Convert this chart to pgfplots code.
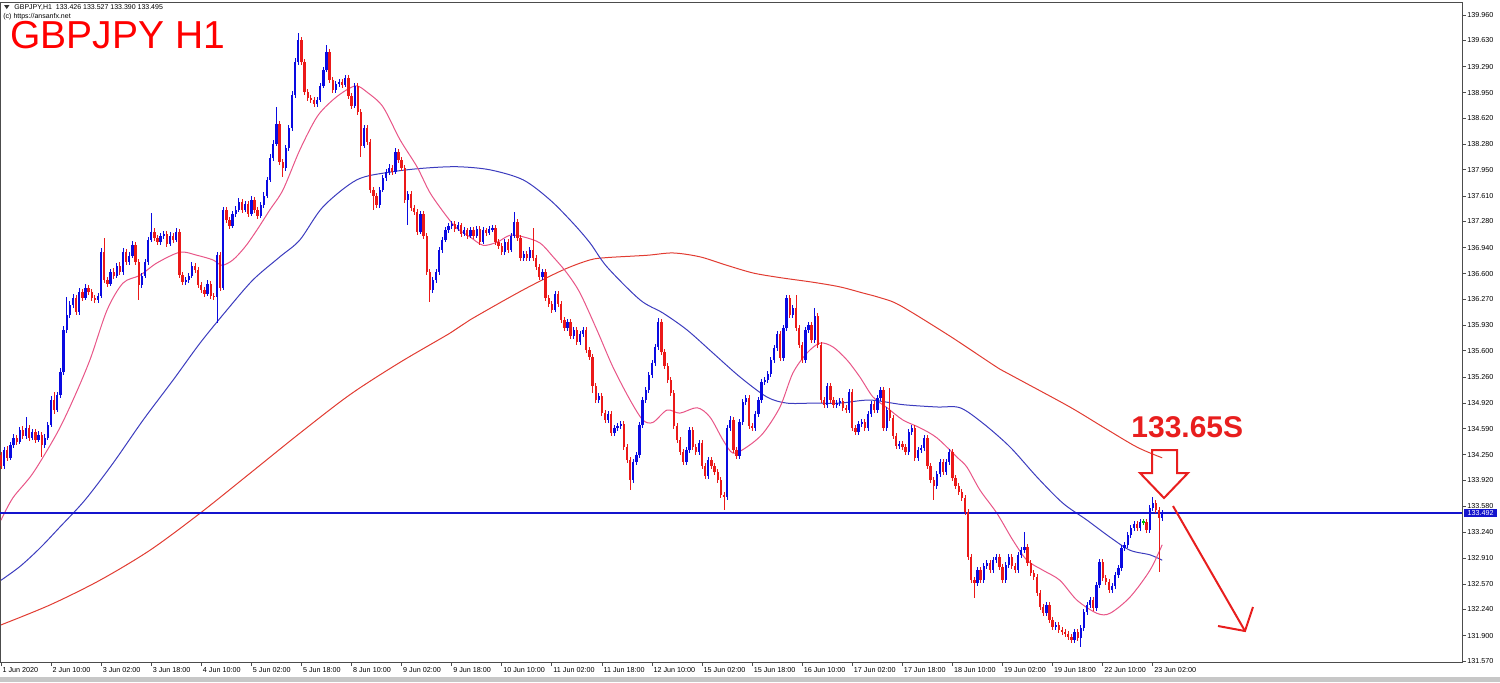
\documentclass[border=0pt]{standalone}
\usepackage{fontspec}
\setmainfont{Liberation Sans}
\usepackage{pgfplots}
\usepackage{pgfplotstable}
\pgfplotsset{compat=1.18}

\definecolor{bull}{RGB}{10,10,225}
\definecolor{bear}{RGB}{235,25,25}
\definecolor{doji}{RGB}{0,190,0}
\definecolor{maFast}{RGB}{232,85,135}
\definecolor{maMid}{RGB}{60,60,190}
\definecolor{maSlow}{RGB}{225,60,50}
\definecolor{lvl}{RGB}{20,20,205}
\definecolor{note}{RGB}{232,30,30}

% GBPJPY H1 bars: index, open, high, low, close
\pgfplotstableread{
i o h l c
0 134.25 134.29 134.06 134.10
1 134.10 134.35 134.06 134.31
2 134.31 134.36 134.17 134.21
3 134.21 134.42 134.18 134.38
4 134.38 134.52 134.34 134.47
5 134.47 134.50 134.38 134.42
6 134.42 134.61 134.39 134.57
7 134.57 134.62 134.45 134.49
8 134.49 134.74 134.45 134.60
9 134.60 134.64 134.43 134.47
10 134.47 134.59 134.44 134.55
11 134.55 134.58 134.40 134.44
12 134.44 134.56 134.41 134.51
13 134.51 134.55 134.22 134.38
14 134.38 134.52 134.34 134.47
15 134.47 134.68 134.44 134.64
16 134.64 135.01 134.61 134.96
17 134.96 135.06 134.78 134.83
18 134.83 135.07 134.80 135.03
19 135.03 135.38 134.99 135.32
20 135.32 135.92 135.29 135.87
21 135.87 136.30 135.83 136.06
22 136.06 136.24 136.02 136.19
23 136.19 136.34 136.15 136.29
24 136.29 136.33 136.06 136.10
25 136.10 136.41 136.07 136.36
26 136.36 136.40 136.25 136.29
27 136.29 136.47 136.26 136.42
28 136.42 136.45 136.32 136.36
29 136.36 136.40 136.25 136.29
30 136.29 136.33 136.22 136.26
31 136.26 136.35 136.22 136.31
32 136.31 136.93 136.28 136.88
33 136.88 137.06 136.48 136.52
34 136.52 136.56 136.43 136.47
35 136.47 136.66 136.44 136.62
36 136.62 136.67 136.53 136.57
37 136.57 136.74 136.54 136.70
38 136.70 136.75 136.58 136.62
39 136.62 136.93 136.59 136.88
40 136.88 136.92 136.71 136.75
41 136.75 136.88 136.72 136.83
42 136.83 137.02 136.80 136.97
43 136.97 137.01 136.71 136.75
44 136.75 136.79 136.26 136.45
45 136.45 136.61 136.42 136.57
46 136.57 136.79 136.54 136.75
47 136.75 137.08 136.72 137.04
48 137.04 137.39 137.01 137.14
49 137.14 137.19 137.02 137.06
50 137.06 137.10 136.97 137.01
51 137.01 137.13 136.98 137.09
52 137.09 137.16 137.05 137.12
53 137.12 137.16 136.95 136.99
54 136.99 137.14 136.96 137.09
55 137.09 137.13 137.00 137.04
56 137.04 137.20 137.01 137.14
57 137.14 137.18 136.54 136.58
58 136.58 136.62 136.45 136.49
59 136.49 136.56 136.45 136.52
60 136.52 136.61 136.48 136.57
61 136.57 136.75 136.54 136.70
62 136.70 136.74 136.61 136.65
63 136.65 136.69 136.41 136.45
64 136.45 136.49 136.35 136.39
65 136.39 136.43 136.30 136.34
66 136.34 136.52 136.31 136.47
67 136.47 136.51 136.27 136.31
68 136.31 136.35 136.26 136.30
69 136.30 136.88 135.96 136.84
70 136.84 136.88 136.38 136.42
71 136.42 137.47 136.39 137.43
72 137.43 137.47 137.26 137.30
73 137.30 137.34 137.18 137.22
74 137.22 137.42 137.19 137.38
75 137.38 137.48 137.34 137.43
76 137.43 137.58 137.40 137.53
77 137.53 137.57 137.39 137.43
78 137.43 137.55 137.40 137.51
79 137.51 137.55 137.34 137.38
80 137.38 137.61 137.35 137.56
81 137.56 137.60 137.39 137.43
82 137.43 137.47 137.31 137.35
83 137.35 137.53 137.32 137.49
84 137.49 137.66 137.45 137.61
85 137.61 137.86 137.58 137.82
86 137.82 138.15 137.79 138.10
87 138.10 138.34 138.06 138.29
88 138.29 138.77 138.26 138.55
89 138.55 138.59 138.01 138.05
90 138.05 138.09 137.86 137.97
91 137.97 138.27 137.94 138.23
92 138.23 138.53 138.20 138.49
93 138.49 138.97 138.45 138.92
94 138.92 139.40 138.88 139.35
95 139.35 139.73 139.31 139.64
96 139.64 139.68 139.31 139.35
97 139.35 139.39 138.92 138.96
98 138.96 139.00 138.84 138.88
99 138.88 138.92 138.82 138.86
100 138.86 138.90 138.76 138.80
101 138.80 138.90 138.77 138.86
102 138.86 139.08 138.83 139.04
103 139.04 139.29 139.01 139.25
104 139.25 139.57 139.22 139.48
105 139.48 139.52 139.08 139.12
106 139.12 139.16 138.95 138.99
107 138.99 139.10 138.95 139.06
108 139.06 139.13 139.02 139.09
109 139.09 139.13 139.01 139.05
110 139.05 139.18 139.02 139.14
111 139.14 139.18 138.87 138.91
112 138.91 138.95 138.74 138.78
113 138.78 139.08 138.75 139.04
114 139.04 139.08 138.66 138.70
115 138.70 138.74 138.12 138.26
116 138.26 138.53 138.23 138.49
117 138.49 138.53 138.27 138.31
118 138.31 138.35 137.65 137.69
119 137.69 137.73 137.43 137.61
120 137.61 137.65 137.45 137.49
121 137.49 137.73 137.46 137.69
122 137.69 137.88 137.66 137.84
123 137.84 137.96 137.80 137.92
124 137.92 138.02 137.88 137.97
125 137.97 138.01 137.88 137.92
126 137.92 138.23 137.89 138.18
127 138.18 138.22 138.04 138.08
128 138.08 138.12 137.93 137.97
129 137.97 138.01 137.52 137.56
130 137.56 137.68 137.23 137.64
131 137.64 137.68 137.41 137.45
132 137.45 137.49 137.36 137.40
133 137.40 137.44 137.10 137.14
134 137.14 137.42 137.11 137.38
135 137.38 137.42 137.05 137.09
136 137.09 137.13 136.58 136.62
137 136.62 136.66 136.23 136.39
138 136.39 136.56 136.35 136.52
139 136.52 136.66 136.48 136.62
140 136.62 136.95 136.58 136.91
141 136.91 137.08 136.87 137.04
142 137.04 137.21 137.01 137.17
143 137.17 137.26 137.13 137.22
144 137.22 137.29 137.18 137.25
145 137.25 137.28 137.14 137.18
146 137.18 137.27 137.15 137.23
147 137.23 137.26 137.08 137.12
148 137.12 137.21 137.09 137.17
149 137.17 137.20 137.05 137.09
150 137.09 137.21 137.06 137.17
151 137.17 137.21 137.05 137.09
152 137.09 137.22 137.06 137.18
153 137.18 137.22 136.97 137.01
154 137.01 137.21 136.98 137.17
155 137.17 137.20 137.09 137.13
156 137.13 137.22 137.10 137.18
157 137.18 137.23 137.14 137.19
158 137.19 137.23 136.97 137.01
159 137.01 137.05 136.92 136.96
160 136.96 137.00 136.84 136.88
161 136.88 137.05 136.85 137.01
162 137.01 137.05 136.87 136.91
163 136.91 137.13 136.88 137.09
164 137.09 137.40 137.06 137.27
165 137.27 137.31 137.02 137.06
166 137.06 137.10 136.76 136.80
167 136.80 136.90 136.76 136.86
168 136.86 136.90 136.76 136.80
169 136.80 136.95 136.77 136.91
170 136.91 137.19 136.76 136.80
171 136.80 136.84 136.65 136.69
172 136.69 136.73 136.52 136.56
173 136.56 136.66 136.52 136.62
174 136.62 136.66 136.25 136.29
175 136.29 136.33 136.17 136.21
176 136.21 136.25 136.09 136.13
177 136.13 136.38 136.10 136.34
178 136.34 136.38 136.17 136.21
179 136.21 136.25 135.96 136.00
180 136.00 136.04 135.86 135.90
181 135.90 136.01 135.86 135.97
182 135.97 136.01 135.75 135.79
183 135.79 135.91 135.75 135.87
184 135.87 135.91 135.67 135.71
185 135.71 135.86 135.67 135.82
186 135.82 135.91 135.78 135.87
187 135.87 135.91 135.57 135.61
188 135.61 135.65 135.48 135.52
189 135.52 135.56 135.05 135.14
190 135.14 135.18 134.92 134.96
191 134.96 135.05 134.92 135.01
192 135.01 135.05 134.75 134.79
193 134.79 134.83 134.66 134.70
194 134.70 134.82 134.66 134.78
195 134.78 134.82 134.49 134.53
196 134.53 134.64 134.49 134.60
197 134.60 134.66 134.56 134.62
198 134.62 134.69 134.58 134.65
199 134.65 134.69 134.31 134.35
200 134.35 134.39 134.14 134.18
201 134.18 134.22 133.79 133.92
202 133.92 134.20 133.88 134.16
203 134.16 134.29 134.12 134.25
204 134.25 134.68 134.21 134.64
205 134.64 135.00 134.60 134.96
206 134.96 135.13 134.92 135.09
207 135.09 135.33 135.05 135.29
208 135.29 135.48 135.25 135.44
209 135.44 135.69 135.40 135.65
210 135.65 136.03 135.61 135.97
211 135.97 136.01 135.54 135.58
212 135.58 135.62 135.36 135.40
213 135.40 135.44 135.18 135.22
214 135.22 135.26 135.01 135.05
215 135.05 135.09 134.58 134.62
216 134.62 134.66 134.40 134.44
217 134.44 134.48 134.25 134.29
218 134.29 134.33 134.12 134.16
219 134.16 134.35 134.12 134.31
220 134.31 134.61 134.27 134.57
221 134.57 134.61 134.31 134.35
222 134.35 134.39 134.25 134.29
223 134.29 134.44 134.25 134.40
224 134.40 134.44 134.06 134.10
225 134.10 134.14 133.93 133.97
226 133.97 134.22 133.93 134.18
227 134.18 134.22 134.06 134.10
228 134.10 134.14 133.99 134.03
229 134.03 134.07 133.88 133.92
230 133.92 133.96 133.69 133.73
231 133.73 133.77 133.53 133.70
232 133.70 134.64 133.66 134.60
233 134.60 134.75 134.56 134.70
234 134.70 134.74 134.27 134.31
235 134.31 134.35 134.19 134.23
236 134.23 134.71 134.19 134.67
237 134.67 134.97 134.63 134.93
238 134.93 135.03 134.89 134.99
239 134.99 135.03 134.58 134.62
240 134.62 134.66 134.56 134.60
241 134.60 134.82 134.56 134.78
242 134.78 135.00 134.74 134.96
243 134.96 135.23 134.92 135.19
244 135.19 135.26 135.15 135.22
245 135.22 135.34 135.18 135.30
246 135.30 135.52 135.26 135.48
247 135.48 135.68 135.44 135.64
248 135.64 135.86 135.60 135.82
249 135.82 135.86 135.47 135.51
250 135.51 135.94 135.47 135.90
251 135.90 136.32 135.86 136.29
252 136.29 136.33 136.02 136.06
253 136.06 136.20 136.02 136.16
254 136.16 136.32 135.86 135.90
255 135.90 135.94 135.63 135.67
256 135.67 135.71 135.44 135.48
257 135.48 135.91 135.44 135.87
258 135.87 135.97 135.83 135.93
259 135.93 135.97 135.70 135.74
260 135.74 136.16 135.70 136.05
261 136.05 136.09 135.63 135.67
262 135.67 135.71 134.92 134.96
263 134.96 135.00 134.86 134.90
264 134.90 135.18 134.86 135.14
265 135.14 135.18 134.92 134.96
266 134.96 135.00 134.86 134.90
267 134.90 134.96 134.86 134.92
268 134.92 134.99 134.88 134.95
269 134.95 134.99 134.82 134.86
270 134.86 134.90 134.79 134.83
271 134.83 135.10 134.79 135.06
272 135.06 135.10 134.56 134.60
273 134.60 134.64 134.51 134.55
274 134.55 134.69 134.51 134.65
275 134.65 134.71 134.61 134.67
276 134.67 134.71 134.56 134.60
277 134.60 134.82 134.56 134.78
278 134.78 134.95 134.74 134.91
279 134.91 134.95 134.79 134.83
280 134.83 135.03 134.79 134.99
281 134.99 135.13 134.95 135.09
282 135.09 135.13 134.56 134.60
283 134.60 134.87 134.56 134.83
284 134.83 135.12 134.69 134.73
285 134.73 134.77 134.45 134.49
286 134.49 134.53 134.32 134.36
287 134.36 134.43 134.32 134.39
288 134.39 134.43 134.31 134.35
289 134.35 134.39 134.25 134.29
290 134.29 134.59 134.25 134.55
291 134.55 134.64 134.51 134.60
292 134.60 134.64 134.17 134.21
293 134.21 134.35 134.17 134.31
294 134.31 134.38 134.27 134.34
295 134.34 134.51 134.30 134.47
296 134.47 134.51 134.06 134.10
297 134.10 134.14 133.88 133.92
298 133.92 133.96 133.66 133.84
299 133.84 134.04 133.80 134.00
300 134.00 134.20 133.96 134.16
301 134.16 134.20 133.99 134.03
302 134.03 134.20 133.99 134.16
303 134.16 134.33 134.12 134.29
304 134.29 134.33 133.91 133.95
305 133.95 133.99 133.80 133.84
306 133.84 133.88 133.73 133.77
307 133.77 133.81 133.65 133.69
308 133.69 133.73 133.47 133.51
309 133.51 133.55 132.88 132.92
310 132.92 132.96 132.58 132.62
311 132.62 132.66 132.39 132.58
312 132.58 132.79 132.54 132.75
313 132.75 132.79 132.58 132.62
314 132.62 132.84 132.58 132.80
315 132.80 132.88 132.76 132.84
316 132.84 132.88 132.71 132.75
317 132.75 132.92 132.71 132.88
318 132.88 132.96 132.84 132.92
319 132.92 132.96 132.75 132.79
320 132.79 132.83 132.58 132.62
321 132.62 132.86 132.58 132.82
322 132.82 132.96 132.78 132.92
323 132.92 132.96 132.76 132.80
324 132.80 132.84 132.71 132.75
325 132.75 132.99 132.71 132.95
326 132.95 133.05 132.91 133.01
327 133.01 133.25 132.97 133.05
328 133.05 133.09 132.80 132.84
329 132.84 132.88 132.67 132.71
330 132.71 132.75 132.62 132.66
331 132.66 132.70 132.41 132.45
332 132.45 132.49 132.23 132.27
333 132.27 132.31 132.15 132.19
334 132.19 132.34 132.15 132.30
335 132.30 132.34 132.06 132.10
336 132.10 132.14 131.97 132.01
337 132.01 132.08 131.97 132.04
338 132.04 132.08 131.93 131.97
339 131.97 132.01 131.91 131.95
340 131.95 131.99 131.88 131.92
341 131.92 131.96 131.84 131.88
342 131.88 131.92 131.80 131.84
343 131.84 131.99 131.80 131.95
344 131.95 131.99 131.83 131.87
345 131.87 132.04 131.75 132.00
346 132.00 132.25 131.96 132.21
347 132.21 132.34 132.17 132.30
348 132.30 132.40 132.26 132.36
349 132.36 132.40 132.22 132.26
350 132.26 132.60 132.22 132.56
351 132.56 132.90 132.52 132.86
352 132.86 132.90 132.61 132.65
353 132.65 132.69 132.56 132.60
354 132.60 132.64 132.45 132.49
355 132.49 132.59 132.45 132.55
356 132.55 132.73 132.51 132.69
357 132.69 132.82 132.65 132.78
358 132.78 133.08 132.74 133.04
359 133.04 133.12 133.00 133.08
360 133.08 133.25 133.04 133.21
361 133.21 133.34 133.17 133.30
362 133.30 133.39 133.26 133.35
363 133.35 133.39 133.26 133.30
364 133.30 133.42 133.26 133.38
365 133.38 133.42 133.34 133.38
366 133.38 133.42 133.23 133.27
367 133.27 133.60 133.23 133.56
368 133.56 133.70 133.52 133.62
369 133.62 133.66 133.49 133.53
370 133.53 133.57 132.73 133.43
371 133.43 133.53 133.39 133.50
}\candles

\newcommand{\tickfont}{\fontsize{3.6}{4.2}\selectfont}
% invisible carrier plot: only its error bars are drawn (#1 colour, #2 width)
\pgfplotsset{candle/.style 2 args={draw=none, mark=none, forget plot,
    error bars/.cd, y dir=both, y explicit, error mark=none,
    error bar style={draw=#1, line width=#2}}}
% close minus open, compared against a small threshold
\newcommand{\move}{(\thisrow{c}-\thisrow{o})}

\begin{document}
\begin{tikzpicture}
\path[use as bounding box] (0pt,0pt) rectangle (750pt,-341pt);
\begin{axis}[
    at={(0pt,-1pt)}, anchor=north west,
    scale only axis,
    width=731pt, height=330pt,
    xmin=-0.32, xmax=466.8,
    ymin=131.558, ymax=140.129,
    clip=false,
    unbounded coords=discard,
    axis line style={black!70, line width=0.5pt},
    tick align=outside,
    major tick length=2pt,
    tick style={black!70, line width=0.4pt},
    xtick pos=left,
    ytick pos=right,
    yticklabel pos=right,
    xtick={0,16,...,368},
    xticklabels={1 Jun 2020, 2 Jun 10:00, 3 Jun 02:00, 3 Jun 18:00, 4 Jun 10:00,
        5 Jun 02:00, 5 Jun 18:00, 8 Jun 10:00, 9 Jun 02:00, 9 Jun 18:00,
        10 Jun 10:00, 11 Jun 02:00, 11 Jun 18:00, 12 Jun 10:00, 15 Jun 02:00,
        15 Jun 18:00, 16 Jun 10:00, 17 Jun 02:00, 17 Jun 18:00, 18 Jun 10:00,
        19 Jun 02:00, 19 Jun 18:00, 22 Jun 10:00, 23 Jun 02:00},
    xticklabel style={font=\tickfont, anchor=north west, inner sep=0pt, xshift=0.6pt, yshift=-0.5pt},
    ytick={131.57,131.90,132.24,132.57,132.91,133.24,133.58,133.92,134.25,134.59,
        134.92,135.26,135.60,135.93,136.27,136.60,136.94,137.28,137.61,137.95,
        138.28,138.62,138.95,139.29,139.63,139.96},
    yticklabel style={font=\tickfont, anchor=west, inner sep=0pt, xshift=0.5pt,
        /pgf/number format/.cd, fixed, fixed zerofill, precision=3,
        assume math mode=true, /tikz/.cd},
]
% moving averages
\addplot[maSlow, line width=0.5pt, smooth] coordinates {
(0,132.04) (15.7,132.30) (31.6,132.62) (47.6,133.01) (63.6,133.49) (79.6,134.01)
(95.5,134.53) (111.5,135.03) (127.5,135.45) (143.5,135.83) (149.8,136.00)
(166.8,136.39) (179.6,136.65) (188.2,136.78) (193.6,136.81) (206.4,136.84)
(214.7,136.87) (223.3,136.82) (231.9,136.71) (240.3,136.61) (248.9,136.55)
(259.4,136.49) (268,136.43) (275.4,136.35) (280.8,136.29) (287.2,136.19)
(303.2,135.79) (319.2,135.36) (325.6,135.22) (341.5,134.87) (352.1,134.61)
(362.9,134.35) (371,134.21)};
\addplot[maMid, line width=0.5pt, smooth] coordinates {
(0,132.62) (6.1,132.80) (12.5,133.04) (18.8,133.31) (26.8,133.66) (35.8,134.14)
(45.4,134.70) (55,135.22) (63.6,135.70) (72.2,136.13) (80.5,136.52) (89.1,136.82)
(95.5,137.04) (102.9,137.47) (113.7,137.82) (124.3,137.92) (134.8,137.97)
(145.7,137.99) (156.2,137.95) (166.8,137.82) (175.4,137.56) (182.7,137.26)
(188.2,137.00) (193.6,136.69) (204.2,136.26) (211.5,136.09) (219.2,135.87)
(227.5,135.57) (236.1,135.26) (244.7,135.00) (251.1,134.92) (259.4,134.92)
(268,134.92) (277.6,134.96) (288.2,134.90) (299,134.87) (306.4,134.86)
(313.7,134.66) (322.4,134.35) (331,133.96) (339.3,133.62) (347,133.40)
(354.3,133.18) (360.7,133.01) (367.1,132.95) (371,132.88)};
\addplot[maFast, line width=0.5pt, smooth] coordinates {
(0,133.40) (3.8,133.69) (10.2,134.01) (17.9,134.53) (23.0,134.96) (28.4,135.48)
(33.9,136.13) (39.0,136.48) (44.4,136.58) (49.8,136.74) (57.2,136.88) (62.6,136.84)
(67.7,136.78) (70.6,136.71) (74.1,136.78) (78,136.95) (81.8,137.17) (85.9,137.43)
(90.1,137.69) (95.5,138.21) (101,138.64) (106.1,138.86) (110.5,138.99)
(113.7,139.04) (116.9,138.96) (122,138.77) (127.5,138.34) (132.9,137.99)
(137.1,137.65) (142.5,137.34) (145.7,137.19) (149.8,137.08) (154,136.97)
(158.5,137.01) (162.6,137.10) (166.8,137.08) (172.2,137.00) (176.4,136.82)
(180.8,136.61) (185,136.35) (190.4,135.87) (195.5,135.39) (201,134.96)
(205.1,134.70) (208.3,134.67) (212.8,134.83) (216.9,134.79) (222.4,134.86)
(226.5,134.74) (230.7,134.44) (233.9,134.27) (238.3,134.35) (243.5,134.53)
(248.9,134.87) (253,135.31) (257.5,135.57) (261.7,135.70) (265.8,135.65)
(270.3,135.48) (274.4,135.26) (278.6,135.00) (283.1,134.86) (288.2,134.70)
(293.6,134.60) (299,134.47) (305.4,134.22) (308.6,134.09) (312.8,133.79)
(318.2,133.49) (323.3,133.14) (327.8,132.88) (332.9,132.75) (338.3,132.62)
(343.8,132.36) (350.2,132.19) (354.3,132.19) (360.7,132.40) (367.1,132.75)
(371,133.08)};
% price level
\addplot[lvl, line width=0.8pt] coordinates {(-0.32,133.492) (466.8,133.492)};
% wicks
\addplot[candle={bull}{0.45pt}] table[x=i,
    y expr={\move>0.001 ? 0.5*(\thisrow{h}+\thisrow{l}) : nan},
    y error expr={0.5*(\thisrow{h}-\thisrow{l})}] {\candles};
\addplot[candle={bear}{0.45pt}] table[x=i,
    y expr={\move<-0.001 ? 0.5*(\thisrow{h}+\thisrow{l}) : nan},
    y error expr={0.5*(\thisrow{h}-\thisrow{l})}] {\candles};
\addplot[candle={doji}{0.45pt}] table[x=i,
    y expr={abs\move<0.001 ? 0.5*(\thisrow{h}+\thisrow{l}) : nan},
    y error expr={0.5*(\thisrow{h}-\thisrow{l})}] {\candles};
% bodies
\addplot[candle={bull}{1.15pt}] table[x=i,
    y expr={\move>0.001 ? 0.5*(\thisrow{o}+\thisrow{c}) : nan},
    y error expr={0.5*abs\move}] {\candles};
\addplot[candle={bear}{1.15pt}] table[x=i,
    y expr={\move<-0.001 ? 0.5*(\thisrow{o}+\thisrow{c}) : nan},
    y error expr={0.5*abs\move}] {\candles};
\addplot[candle={doji}{1.15pt}] table[x=i,
    y expr={abs\move<0.001 ? \thisrow{c} : nan},
    y error expr={0.006}] {\candles};
\end{axis}

% annotations, in pixel units of the 1500x682 frame
\begin{scope}[x=0.5pt, y=-0.5pt]
  \fill[lvl] (1464,508.5) rectangle (1497,517);
  \node[text=white, font=\tickfont, inner sep=0pt] at (1480.5,512.8) {133.492};
  \fill[black!80] (4,5) -- (9.5,5) -- (6.75,9) -- cycle;
  \node[anchor=base west, inner sep=0pt, font=\fontsize{3.5}{4}\selectfont] at (14,9.5)
    {GBPJPY,H1\ \ 133.426 133.527 133.390 133.495};
  \node[anchor=base west, inner sep=0pt, font=\fontsize{3.5}{4}\selectfont] at (3,18.5)
    {(c) https://ansanfx.net};
  \node[anchor=base west, inner sep=0pt, text=red, font=\fontsize{19.5}{22}\selectfont] at (10,48)
    {GBPJPY H1};
  \node[anchor=base west, inner sep=0pt, text=note, font=\bfseries\fontsize{15}{17}\selectfont] at (1131,437)
    {133.65S};
  \draw[note, line width=1pt, line join=miter] (1152,450) -- (1177,450) -- (1177,473) -- (1188,473)
    -- (1164,498) -- (1140,473) -- (1152,473) -- cycle;
  \draw[note, line width=1pt] (1173,506) -- (1245,631);
  \draw[note, line width=1pt, line join=miter] (1218,626) -- (1245,631) -- (1253,607);
  \fill[black!22] (0,677) rectangle (1500,682);
\end{scope}
\end{tikzpicture}
\end{document}
